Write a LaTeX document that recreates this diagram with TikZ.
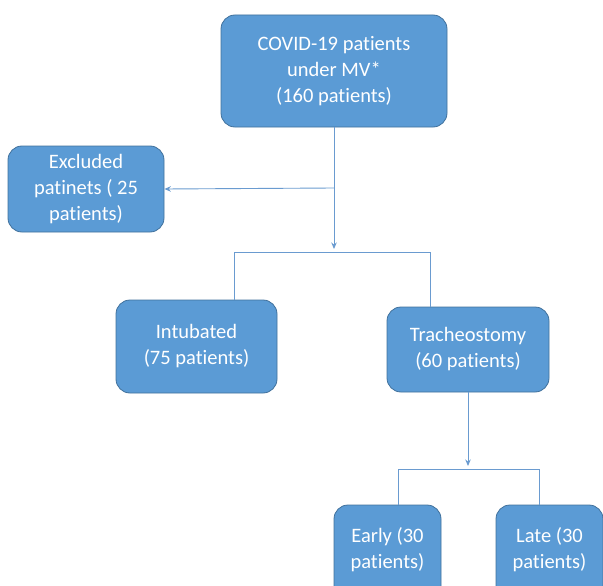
\documentclass[tikz,border=0pt]{standalone}
\usepackage{fontspec}
\setmainfont{Carlito}[Ligatures={NoCommon}]
\usetikzlibrary{arrows.meta}
\definecolor{boxfill}{HTML}{5B9BD5}
\definecolor{boxedge}{HTML}{41719C}
\definecolor{linec}{HTML}{6A9BD0}
\begin{document}
\begin{tikzpicture}[x=1pt,y=-1pt,
  box/.style={draw=boxedge,line width=0.8pt,fill=boxfill,rounded corners=14pt,
    text=white,align=center,font=\fontsize{20.5}{26}\selectfont,inner sep=0pt,
    execute at begin node={\rule{0pt}{21pt}}},
  lbl/.style={text=white,align=center,font=\fontsize{20.5}{26}\selectfont,inner sep=0pt},
  conn/.style={draw=linec,line width=0.9pt},
  arr/.style={conn,-{Stealth[length=6.5pt,width=5.5pt]}}]
\useasboundingbox (0,0) rectangle (603,586);
\node[box,minimum width=226pt,minimum height=112pt] (top) at (334,71) {COVID-19 patients\\under MV*\\(160 patients)};
\node[box,minimum width=156pt,minimum height=86pt] (excl) at (86,189) {Excluded\\patinets ( 25\\patients)};
\node[box,minimum width=161pt,minimum height=93pt] (intub) at (196.5,346.5) {Intubated\\(75 patients)};
\node[box,minimum width=162pt,minimum height=85pt] (trach) at (468,349.5) {Tracheostomy\\(60 patients)};
\node[box,minimum width=107pt,minimum height=100pt] (early) at (387.5,555) {};
\node[box,minimum width=107pt,minimum height=100pt] (late) at (549.5,555) {};
\node[lbl] (earlyt) at (387.5,549.5) {Early (30\\patients)};
\node[lbl] (latet) at (549.5,549.5) {Late (30\\patients)};
\coordinate (j1) at (334,188);
\coordinate (a1) at (334,249);
\coordinate (b1) at (234,252);
\coordinate (b2) at (430,252);
\coordinate (a2) at (468,466);
\coordinate (c1) at (398,469);
\coordinate (c2) at (539,469);
\draw[arr] (top.south) -- (a1);
\draw[arr] (j1) -- (excl.east);
\draw[conn] (b1 |- intub.north) -- (b1) -- (b2) -- (b2 |- trach.north);
\draw[arr] (trach.south) -- (a2);
\draw[conn] (c1 |- early.north) -- (c1) -- (c2) -- (c2 |- late.north);
\end{tikzpicture}
\end{document}
